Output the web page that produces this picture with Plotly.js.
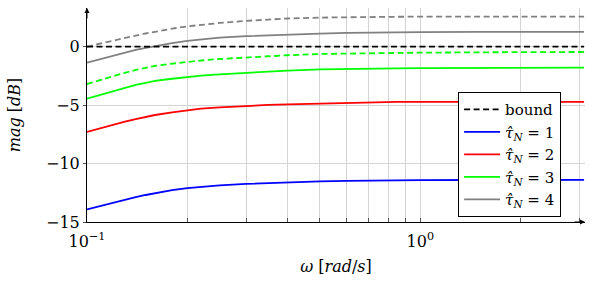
<!DOCTYPE html>
<html>
<head>
<meta charset="utf-8">
<script src="https://cdn.plot.ly/plotly-3.0.1.min.js"></script>
<style>html,body{margin:0;padding:0;background:#fff;}#chart{width:598px;height:297px;}</style>
</head>
<body>
<div id="chart"></div>
<script>
var omega    = [0.1, 0.11, 0.12, 0.13, 0.14, 0.15, 0.16, 0.18, 0.2, 0.22, 0.25, 0.3, 0.35, 0.4, 0.5, 0.6, 0.7, 0.85, 1, 1.5, 2, 3.1];
var bound    = [0, 0, 0, 0, 0, 0, 0, 0, 0, 0, 0, 0, 0, 0, 0, 0, 0, 0, 0, 0, 0, 0];
var tau1     = [-13.93, -13.62, -13.33, -13.08, -12.87, -12.69, -12.53, -12.28, -12.1, -11.98, -11.86, -11.74, -11.66, -11.6, -11.53, -11.48, -11.45, -11.43, -11.42, -11.41, -11.4, -11.4];
var tau2     = [-7.3, -6.96, -6.65, -6.41, -6.2, -6.02, -5.85, -5.63, -5.44, -5.31, -5.19, -5.06, -4.99, -4.94, -4.86, -4.8, -4.76, -4.73, -4.72, -4.72, -4.72, -4.72];
var tau3     = [-4.45, -4.1, -3.8, -3.53, -3.28, -3.1, -2.94, -2.75, -2.6, -2.49, -2.37, -2.23, -2.13, -2.06, -1.95, -1.9, -1.88, -1.86, -1.84, -1.82, -1.81, -1.8];
var tau3dash = [-3.2, -2.84, -2.51, -2.24, -2.0, -1.81, -1.65, -1.46, -1.3, -1.19, -1.06, -0.92, -0.82, -0.74, -0.63, -0.59, -0.57, -0.54, -0.52, -0.49, -0.47, -0.46];
var tau4     = [-1.37, -1.05, -0.77, -0.51, -0.28, -0.1, 0.06, 0.3, 0.49, 0.62, 0.76, 0.89, 0.97, 1.03, 1.11, 1.17, 1.2, 1.22, 1.24, 1.25, 1.26, 1.26];
var tau4dash = [0, 0.28, 0.53, 0.75, 0.94, 1.12, 1.28, 1.53, 1.73, 1.87, 2.02, 2.2, 2.32, 2.4, 2.48, 2.52, 2.54, 2.55, 2.56, 2.57, 2.57, 2.57];

var xTickVals = [0.1, 0.2, 0.3, 0.4, 0.5, 0.6, 0.7, 0.8, 0.9, 1, 2, 3];
var xTickText = ['10<sup>−1</sup>', '', '', '', '', '', '', '', '', '10<sup>0</sup>', '', ''];
var yTickVals = [-15, -10, -5, 0];

var legendNames = ['bound', '<i>τ̂</i><sub><i>N</i></sub> = 1', '<i>τ̂</i><sub><i>N</i></sub> = 2', '<i>τ̂</i><sub><i>N</i></sub> = 3', '<i>τ̂</i><sub><i>N</i></sub> = 4'];

var W = 1.8;
var DASH = '6px,3.5px';
var traces = [
  {x: omega, y: tau4dash, mode: 'lines', line: {color: '#808080', width: W, dash: DASH}, showlegend: false},
  {x: omega, y: tau3dash, mode: 'lines', line: {color: '#00ff00', width: W, dash: DASH}, showlegend: false},
  {x: omega, y: tau1, mode: 'lines', name: legendNames[1], legendrank: 2, line: {color: '#0000ff', width: W}},
  {x: omega, y: tau2, mode: 'lines', name: legendNames[2], legendrank: 3, line: {color: '#ff0000', width: W}},
  {x: omega, y: tau3, mode: 'lines', name: legendNames[3], legendrank: 4, line: {color: '#00ff00', width: W}},
  {x: omega, y: tau4, mode: 'lines', name: legendNames[4], legendrank: 5, line: {color: '#808080', width: W}},
  {x: omega, y: bound, mode: 'lines', name: legendNames[0], legendrank: 1, line: {color: '#000000', width: W, dash: DASH}}
];

var font = 'DejaVu Serif';
var layout = {
  width: 598, height: 297,
  margin: {l: 87, r: 13, t: 8, b: 75},
  paper_bgcolor: '#fff', plot_bgcolor: '#fff',
  font: {family: font, size: 16, color: '#000'},
  showlegend: true,
  legend: {
    x: 0.952, y: 0.607, xanchor: 'right', yanchor: 'top',
    bgcolor: '#fff', bordercolor: '#000', borderwidth: 1,
    font: {family: font, size: 15, color: '#000'},
    itemwidth: 36, tracegroupgap: 0
  },
  xaxis: {
    type: 'log', range: [-1, Math.log10(3.12)],
    tickvals: xTickVals, ticktext: xTickText,
    showgrid: true, gridcolor: '#d4d4d4', gridwidth: 1,
    showline: true, linecolor: '#000', linewidth: 1,
    ticks: 'inside', ticklen: 4, tickcolor: '#555', tickwidth: 1,
    zeroline: false,
    tickfont: {family: font, size: 16},
    ticklabelstandoff: 5,
    title: {text: '<i>ω</i> [<i>rad</i>/<i>s</i>]', font: {family: font, size: 16}, standoff: 10}
  },
  yaxis: {
    range: [-15, 3.3],
    tickvals: yTickVals,
    showgrid: true, gridcolor: '#d4d4d4', gridwidth: 1,
    showline: true, linecolor: '#000', linewidth: 1,
    ticks: 'outside', ticklen: 3, tickcolor: '#555', tickwidth: 1,
    zeroline: false,
    tickfont: {family: font, size: 16},
    title: {text: '<i>mag</i> [<i>dB</i>]', font: {family: font, size: 16}, standoff: 21}
  },
  annotations: [
    {xref: 'paper', yref: 'paper', x: 0, y: 1, ax: 0, ay: 12, axref: 'pixel', ayref: 'pixel', showarrow: true, arrowhead: 2, arrowsize: 1, arrowwidth: 1, arrowcolor: '#000', text: ''},
    {xref: 'paper', yref: 'paper', x: 1, y: 0, ax: -12, ay: 0, axref: 'pixel', ayref: 'pixel', showarrow: true, arrowhead: 2, arrowsize: 1, arrowwidth: 1, arrowcolor: '#000', text: ''}
  ]
};

Plotly.newPlot('chart', traces, layout, {displayModeBar: false, staticPlot: true});
</script>
</body>
</html>
